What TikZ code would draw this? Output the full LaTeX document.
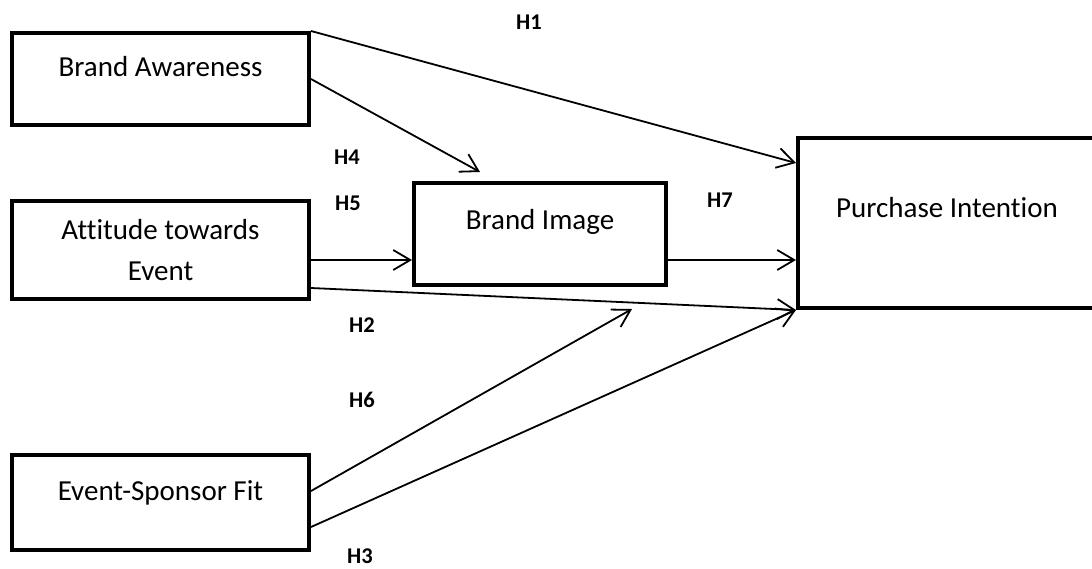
\documentclass[tikz,border=0pt]{standalone}
\usepackage{fontspec}
\setmainfont{Carlito}[Ligatures=CommonOff]
\usetikzlibrary{arrows.meta}

\begin{document}
\begin{tikzpicture}[x=1pt, y=-1pt,
    box/.style={draw, line width=4pt, inner sep=0pt, align=center, font=\fontsize{29}{41}\selectfont},
    arr/.style={-{Straight Barb[length=17pt,width=20pt]}, line width=1.8pt},
    hyp/.style={font=\fontsize{22.5}{26}\selectfont\bfseries, inner sep=0pt}
]
    \useasboundingbox (0,0) rectangle (1092,568);

    \node[box, minimum width=297pt, minimum height=92pt, text height=20pt, text depth=26pt] (aware) at (160.5,79) {Brand Awareness};
    \node[box, minimum width=297pt, minimum height=98pt] (attitude) at (160.5,250) {Attitude towards\\Event};
    \node[box, minimum width=252pt, minimum height=102pt, text height=20pt, text depth=30pt] (image) at (540,234) {Brand Image};
    \node[box, minimum width=298pt, minimum height=170pt, text height=20pt, text depth=32pt] (intention) at (947,223) {Purchase Intention};
    \node[box, minimum width=297pt, minimum height=95pt, text height=20pt, text depth=25pt] (fit) at (160.5,502.5) {Event-Sponsor Fit};

    \node[hyp] (h1) at (529,22) {H1};
    \node[hyp] (h4) at (347,157) {H4};
    \node[hyp] (h5) at (348,203) {H5};
    \node[hyp] (h7) at (720,200) {H7};
    \node[hyp] (h2) at (362,325) {H2};
    \node[hyp] (h6) at (362,400) {H6};
    \node[hyp] (h3) at (360,556) {H3};

    \coordinate (h4end) at (480,172);
    \coordinate (h6end) at (632,309);

    \draw[arr] (aware.north east) -- ([yshift=-27pt]intention.north west);
    \draw[arr] (aware.east) -- (h4end);
    \draw[arr] ([yshift=-10pt]attitude.east) coordinate (h5start) -- (image.west |- h5start);
    \draw[arr] ([yshift=-26pt]image.east) coordinate (h7start) -- (intention.west |- h7start);
    \draw[arr] ([yshift=13pt]attitude.south east) -- (intention.south west);
    \draw[arr] ([yshift=11.5pt]fit.east) -- (h6end);
    \draw[arr] ([yshift=-24.5pt]fit.east) -- (intention.south west);
\end{tikzpicture}
\end{document}
